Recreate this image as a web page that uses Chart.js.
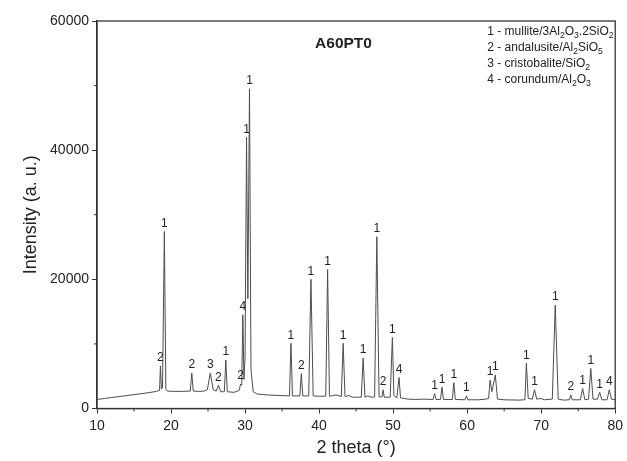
<!DOCTYPE html>
<html>
<head>
<meta charset="utf-8">
<script src="https://cdn.jsdelivr.net/npm/chart.js@4/dist/chart.umd.min.js"></script>
<style>
  body { margin: 0; background: #fff; }
  #wrap { width: 627px; height: 461px; }
</style>
</head>
<body>
<div id="wrap"><canvas id="xrd"></canvas></div>
<script>
// XRD pattern (2 theta in degrees, intensity in a.u.)
const twoTheta = [
  10.0, 11.0, 12.0, 13.0, 14.0, 15.0, 16.0, 17.0, 18.0, 18.45, 18.57, 18.7, 18.85, 19.1, 19.3, 19.5,
  20.5, 21.5, 22.6, 22.8, 23.0, 23.8, 24.5, 24.9, 25.3, 25.7, 26.1, 26.4, 26.7, 27.2, 27.4, 27.6,
  28.5, 29.2, 29.4, 29.55, 29.7, 29.85, 30.0, 30.2, 30.38, 30.6, 30.8, 31.1, 31.6, 33.0, 35.0,
  36.0, 36.2, 36.4, 37.4, 37.6, 37.8, 38.6, 38.9, 39.2, 40.0, 40.9, 41.15, 41.4, 42.3, 43.0,
  43.25, 43.5, 44.0, 44.5, 45.7, 45.95, 46.2, 46.6, 47.0, 47.5, 47.8, 48.1, 48.5, 48.65, 48.8,
  49.6, 49.9, 50.1, 50.5, 50.8, 51.0, 52.0, 53.0, 54.0, 55.4, 55.6, 55.8, 56.4, 56.6, 56.8,
  58.0, 58.2, 58.4, 59.7, 59.9, 60.1, 61.5, 62.5, 62.9, 63.1, 63.35, 63.8, 64.1, 65.0, 67.0,
  67.8, 68.0, 68.25, 68.8, 69.1, 69.4, 70.0, 70.4, 71.5, 71.9, 72.3, 73.0, 73.8, 74.0, 74.2,
  75.3, 75.6, 75.9, 76.4, 76.7, 77.0, 77.6, 77.9, 78.2, 78.9, 79.2, 79.5, 80.0
];
const intensity = [
  1400, 1550, 1700, 1850, 2000, 2150, 2300, 2450, 2650, 2800, 6600, 3000, 3300, 27400, 3000, 2700,
  2650, 2650, 2700, 5500, 2700, 2650, 2700, 2900, 5500, 2900, 2700, 3600, 2600, 2600, 7500, 2600,
  2500, 2800, 3800, 3600, 14500, 4500, 8000, 42000, 17000, 49500, 6000, 2600, 2250, 2100, 2000,
  1950, 10100, 1950, 1950, 5400, 1950, 1950, 20000, 1950, 1900, 1900, 21500, 1900, 2100, 1850,
  10100, 1850, 2000, 1750, 1750, 7800, 1750, 1950, 1750, 1800, 26600, 1800, 1800, 2900, 1750,
  1750, 11000, 2000, 1650, 4800, 1650, 1450, 1400, 1450, 1400, 2300, 1400, 1400, 3300, 1400,
  1400, 4000, 1400, 1350, 1950, 1350, 1350, 1450, 1550, 4400, 2600, 5200, 1450, 1350, 1300,
  1350, 7000, 1550, 1450, 2900, 1450, 1550, 1350, 1450, 16000, 1450, 1300, 1350, 2100, 1350,
  1350, 3100, 1350, 1450, 6200, 1450, 1450, 2500, 1350, 1350, 2900, 1450, 1350
];

// phase markers above the peaks
const peakTheta = [18.57, 19.1, 22.8, 25.3, 26.4, 27.4, 29.4, 29.7, 30.2, 30.6, 36.2, 37.6, 38.9,
  41.15, 43.25, 45.95, 47.8, 48.65, 49.9, 50.8, 55.6, 56.6, 58.2, 59.9, 63.1, 63.8, 68.0, 69.1,
  71.9, 74.0, 75.6, 76.7, 77.9, 79.2];
const peakPhase = ["2", "1", "2", "3", "2", "1", "2", "4", "1", "1", "1", "2", "1",
  "1", "1", "1", "1", "2", "1", "4", "1", "1", "1", "1", "1", "1", "1", "1",
  "1", "2", "1", "1", "1", "4"];

const phaseNames = [
  "1 - mullite/3Al_2O_3.2SiO_2",
  "2 - andalusite/Al_2SiO_5",
  "3 - cristobalite/SiO_2",
  "4 - corundum/Al_2O_3"
];
const sampleName = "A60PT0";

const FONT = "'Liberation Sans', Arial, sans-serif";
const INK = "#222";

// draw a string where "_d" means subscript digit
function drawSubText(ctx, str, x, y, size) {
  const parts = str.split(/(_\d)/).filter(p => p.length);
  parts.forEach(p => {
    if (p[0] === "_") {
      ctx.font = (size * 0.72) + "px " + FONT;
      ctx.fillText(p[1], x, y + size * 0.3);
      x += ctx.measureText(p[1]).width;
    } else {
      ctx.font = size + "px " + FONT;
      ctx.fillText(p, x, y);
      x += ctx.measureText(p).width;
    }
  });
}

const decorPlugin = {
  id: "decor",
  afterDraw(chart) {
    const { ctx, chartArea: a, scales } = chart;
    const xs = scales.x, ys = scales.y;
    ctx.save();

    // frame
    ctx.strokeStyle = "#333";
    ctx.lineWidth = 1.3;
    ctx.strokeRect(a.left, a.top, a.right - a.left, a.bottom - a.top);

    // minor ticks (shorter)
    ctx.lineWidth = 1;
    xs.ticks.forEach(t => {
      if (t.value % 10 !== 0) {
        const px = xs.getPixelForValue(t.value);
        ctx.beginPath(); ctx.moveTo(px, a.bottom); ctx.lineTo(px, a.bottom + 3); ctx.stroke();
      }
    });
    ys.ticks.forEach(t => {
      if (t.value % 20000 !== 0) {
        const py = ys.getPixelForValue(t.value);
        ctx.beginPath(); ctx.moveTo(a.left, py); ctx.lineTo(a.left - 3, py); ctx.stroke();
      }
    });

    // peak markers
    ctx.fillStyle = INK;
    ctx.font = "12px " + FONT;
    ctx.textAlign = "center";
    ctx.textBaseline = "bottom";
    peakTheta.forEach((th, i) => {
      let top = 0;
      twoTheta.forEach((t, j) => { if (Math.abs(t - th) < 0.06) top = Math.max(top, intensity[j]); });
      ctx.fillText(peakPhase[i], xs.getPixelForValue(th), ys.getPixelForValue(top) - 2);
    });

    // sample name
    ctx.font = "bold 15.5px " + FONT;
    ctx.textBaseline = "middle";
    ctx.fillText(sampleName, xs.getPixelForValue(43.3), a.top + 23);

    // phase list
    ctx.textAlign = "left";
    phaseNames.forEach((s, i) => {
      drawSubText(ctx, s, a.right - 128, a.top + 11 + i * 16, 12);
    });
    ctx.restore();
  }
};

new Chart(document.getElementById("xrd"), {
  type: "line",
  data: {
    datasets: [{
      data: twoTheta.map((t, i) => ({ x: t, y: intensity[i] })),
      borderColor: "#4d4d4d",
      borderWidth: 1,
      pointRadius: 0,
      tension: 0
    }]
  },
  options: {
    responsive: true,
    maintainAspectRatio: false,
    animation: false,
    layout: { padding: { top: 21, right: 6, left: 0, bottom: 0 } },
    plugins: { legend: { display: false }, tooltip: { enabled: false } },
    scales: {
      x: {
        type: "linear",
        min: 10,
        max: 80,
        afterFit: s => { s.height = 52.5; },
        border: { color: "#333", width: 1.3 },
        grid: {
          drawOnChartArea: false,
          tickLength: 5,
          tickColor: c => (c.tick && c.tick.value % 10 === 0 ? "#333" : "rgba(0,0,0,0)")
        },
        ticks: {
          stepSize: 5,
          autoSkip: false,
          maxRotation: 0,
          padding: 4,
          color: INK,
          font: { family: FONT, size: 14 },
          callback: v => (v % 10 === 0 ? String(v) : "")
        },
        title: {
          display: true,
          text: "2 theta (°)",
          color: INK,
          font: { family: FONT, size: 18 },
          padding: { top: 0, bottom: 2 }
        }
      },
      y: {
        min: 0,
        max: 60000,
        afterFit: s => { s.width = 97; },
        border: { color: "#333", width: 1.3 },
        grid: {
          drawOnChartArea: false,
          tickLength: 5,
          tickColor: c => (c.tick && c.tick.value % 20000 === 0 ? "#333" : "rgba(0,0,0,0)")
        },
        ticks: {
          stepSize: 10000,
          autoSkip: false,
          padding: 3,
          color: INK,
          font: { family: FONT, size: 14 },
          callback: v => (v % 20000 === 0 ? String(v) : "")
        },
        title: {
          display: true,
          text: "Intensity (a. u.)",
          color: INK,
          font: { family: FONT, size: 18 },
          padding: { top: 20, bottom: 0 }
        }
      }
    }
  },
  plugins: [decorPlugin]
});
</script>
</body>
</html>
